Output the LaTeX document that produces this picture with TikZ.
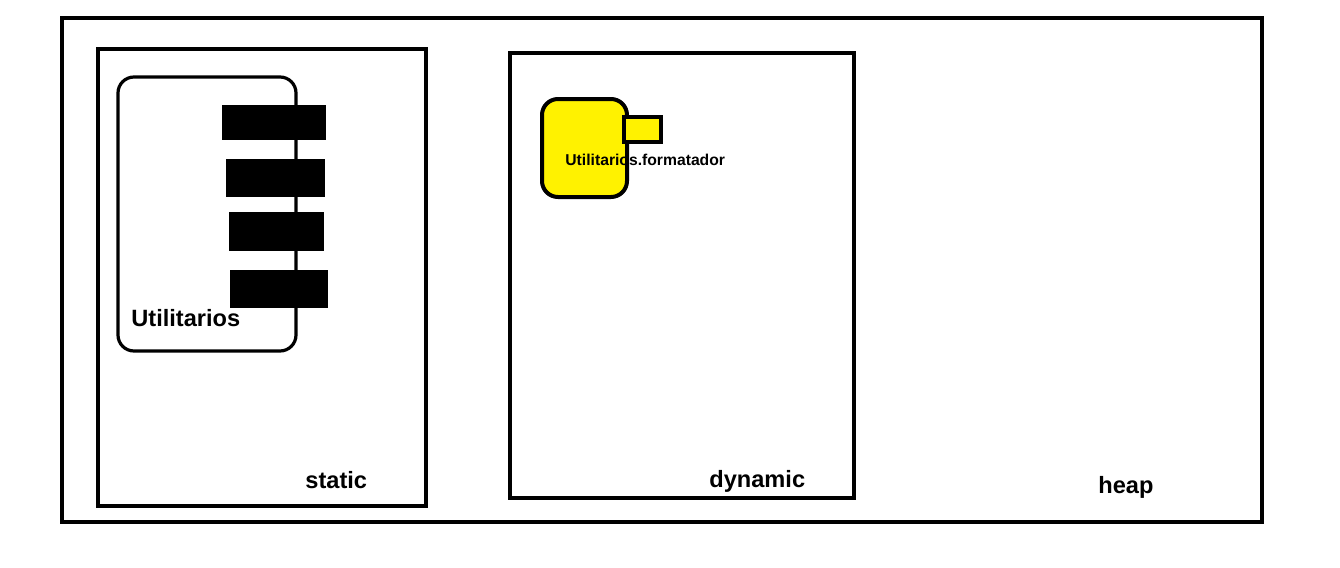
\documentclass[tikz,border=0pt]{standalone}
\usepackage{fontspec}
\setmainfont{Liberation Sans}
\usetikzlibrary{positioning}
\definecolor{objyellow}{RGB}{255,242,0}
\begin{document}
\begin{tikzpicture}[x=0.5pt,y=-0.5pt]
\tikzset{region/.style={draw,line width=2.2pt}}
\tikzset{module/.style={draw,line width=1.6pt,rounded corners=8pt}}
\tikzset{object/.style={draw,line width=2pt,rounded corners=8pt,fill=objyellow}}
\tikzset{slot/.style={fill=black}}
\tikzset{label/.style={inner sep=0pt,font=\fontsize{11.8pt}{14pt}\selectfont\bfseries}}
\tikzset{small/.style={inner sep=0pt,font=\fontsize{7.85pt}{9pt}\selectfont\bfseries}}
\useasboundingbox[fill=white] (0,0) rectangle (1340,568);
% memory areas
\draw[region] (62,18) rectangle (1262,522);
\draw[region] (98,49) rectangle (426,506);
\draw[region] (510,53) rectangle (854,498);
% class Utilitarios
\draw[module] (118,77) rectangle (296,351);
\fill[slot] (222,105) rectangle (326,140);
\fill[slot] (226,159) rectangle (325,197);
\fill[slot] (229,212) rectangle (324,251);
\fill[slot] (230,270) rectangle (328,308);
% instance
\draw[object] (542,99) rectangle (627,197);
\draw[line width=2pt,fill=objyellow] (624,117) rectangle (661,142);
\node[label,anchor=base west] (util) at (131,326) {Utilitarios};
\node[small,anchor=base west] (fmt) at (565,165) {Utilitarios.formatador};
\node[label,anchor=base west] (static) at (305,488) {static};
\node[label,anchor=base west] (dynamic) at (709,487) {dynamic};
\node[label,anchor=base west] (heap) at (1098,493) {heap};
\end{tikzpicture}
\end{document}
